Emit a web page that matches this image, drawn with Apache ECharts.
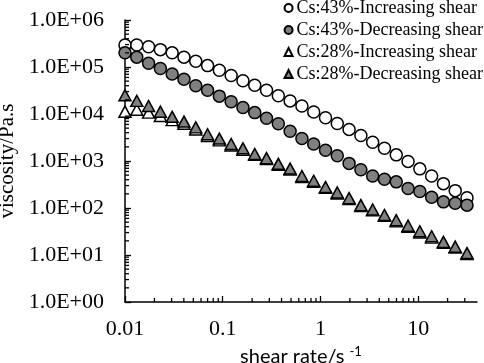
<!DOCTYPE html>
<html>
<head>
<meta charset="utf-8">
<script src="https://cdn.jsdelivr.net/npm/echarts@6/dist/echarts.min.js"></script>
<style>
  html, body { margin: 0; padding: 0; background: #fff; }
  #chart { width: 484px; height: 363px; }
</style>
</head>
<body>
<div id="chart"></div>
<script>
// shear rate (1/s), 30 log-spaced points
const shearRate = [0.01, 0.0132, 0.01743, 0.02302, 0.03039, 0.04013, 0.05298, 0.06996, 0.09237, 0.122,
  0.161, 0.2126, 0.2807, 0.3707, 0.4894, 0.6462, 0.8532, 1.127, 1.487, 1.964,
  2.593, 3.423, 4.52, 5.968, 7.88, 10.4, 13.74, 18.14, 23.95, 31.62];

// viscosity (Pa.s)
const cs43Inc = [2.95e5, 2.95e5, 2.69e5, 2.34e5, 2.0e5, 1.62e5, 1.32e5, 1.07e5, 8.5e4, 6.6e4,
  5.1e4, 4.1e4, 3.2e4, 2.45e4, 1.9e4, 1.48e4, 1.1e4, 8.3e3, 6.3e3, 4.7e3,
  3.5e3, 2.5e3, 1.86e3, 1.35e3, 980, 680, 480, 330, 234, 166];
const cs43Dec = [2.0e5, 1.62e5, 1.2e5, 9.3e4, 7.1e4, 5.5e4, 4.0e4, 3.2e4, 2.4e4, 1.82e4,
  1.38e4, 1.07e4, 8.1e3, 6.2e3, 4.3e3, 3.0e3, 2.3e3, 1.7e3, 1.29e3, 890,
  650, 480, 410, 360, 260, 224, 170, 135, 126, 115];
const cs28Inc = [1.12e4, 1.23e4, 1.07e4, 9.1e3, 7.4e3, 6.2e3, 4.7e3, 3.4e3, 2.75e3, 2.14e3,
  1.74e3, 1.35e3, 1.1e3, 830, 660, 457, 363, 269, 204, 155,
  110, 89, 68, 52, 40, 30, 23.4, 18.2, 14.5, 10.5];
const cs28Dec = [2.5e4, 1.9e4, 1.48e4, 1.12e4, 8.7e3, 6.9e3, 5.2e3, 3.7e3, 3.0e3, 2.3e3,
  1.86e3, 1.41e3, 1.15e3, 870, 690, 480, 380, 280, 214, 162,
  115, 93, 71, 55, 42, 32, 25, 19, 15, 11];

const seriesNames = ['Cs:43%-Increasing shear', 'Cs:43%-Decreasing shear',
  'Cs:28%-Increasing shear', 'Cs:28%-Decreasing shear'];

const xTickLabels = ['0.01', '0.1', '1', '10'];        // 10^-2 .. 10^1
const yTickLabels = ['1.0E+00', '1.0E+01', '1.0E+02', '1.0E+03', '1.0E+04', '1.0E+05', '1.0E+06'];

// minor ticks (2..9 per decade)
const xMinorTicks = [0.02, 0.03, 0.04, 0.05, 0.06, 0.07, 0.08, 0.09,
  0.2, 0.3, 0.4, 0.5, 0.6, 0.7, 0.8, 0.9,
  2, 3, 4, 5, 6, 7, 8, 9, 20, 30];
const yMinorTicks = [];
[1, 10, 100, 1e3, 1e4, 1e5].forEach(d => {
  [2, 3, 4, 5, 6, 7, 8, 9].forEach(m => yMinorTicks.push(m * d));
});

const serif = 'Liberation Serif';
const gray = '#808080';

function pairs(ys) {
  return shearRate.map((x, i) => [x, ys[i]]);
}

function markerSeries(name, ys, symbol, fill, size) {
  return {
    name: name,
    type: 'scatter',
    data: pairs(ys),
    symbol: symbol,
    symbolSize: size,
    itemStyle: { color: fill, borderColor: '#000', borderWidth: 1.5, opacity: 1 }
  };
}

// small inside ticks at 2..9 of each decade
function tickSeries(data, horizontal, len) {
  return {
    type: 'custom',
    silent: true,
    z: 5,
    data: data,
    renderItem: function (params, api) {
      const p = api.coord([api.value(0), api.value(1)]);
      return {
        type: 'line',
        shape: horizontal
          ? { x1: p[0], y1: p[1], x2: p[0] + len, y2: p[1] }
          : { x1: p[0], y1: p[1], x2: p[0], y2: p[1] - len },
        style: { stroke: '#000', lineWidth: 1.3 }
      };
    }
  };
}

const chart = echarts.init(document.getElementById('chart'), null, { renderer: 'canvas' });

chart.setOption({
  animation: false,
  backgroundColor: '#fff',
  grid: { left: 125, right: 7, top: 20, bottom: 61, containLabel: false, outerBoundsMode: 'none' },
  legend: {
    data: seriesNames,
    orient: 'vertical',
    right: 1,
    top: -1,
    padding: [0, 0, 0, 0],
    itemWidth: 8,
    itemHeight: 8,
    itemGap: 4,
    textStyle: { fontFamily: serif, fontSize: 18, color: '#000', lineHeight: 18, padding: [0, 0, 0, -1] }
  },
  xAxis: {
    type: 'log',
    min: 0.01,
    max: 40,
    name: '{a|shear rate/s }{b|-1}',
    nameLocation: 'middle',
    nameGap: 40,
    nameTextStyle: {
      rich: {
        a: { fontFamily: 'Lato', fontSize: 20, color: '#000', lineHeight: 22, verticalAlign: 'bottom' },
        b: { fontFamily: 'Lato', fontSize: 13, color: '#000', lineHeight: 22, verticalAlign: 'top' }
      }
    },
    axisLine: { lineStyle: { color: '#000', width: 1.5 } },
    axisTick: { inside: true, length: 6, lineStyle: { color: '#000', width: 1.3 } },
    splitLine: { show: false },
    axisLabel: {
      margin: 16,
      showMaxLabel: false,
      fontFamily: serif,
      fontSize: 22,
      color: '#000',
      formatter: v => xTickLabels[Math.round(Math.log10(v)) + 2] || ''
    }
  },
  yAxis: {
    type: 'log',
    min: 1,
    max: 1e6,
    name: 'viscosity/Pa.s',
    nameLocation: 'middle',
    nameGap: 101,
    nameTextStyle: { fontFamily: serif, fontSize: 21, color: '#000' },
    axisLine: { show: true, lineStyle: { color: '#000', width: 1.5 } },
    axisTick: { show: true, inside: true, length: 6, lineStyle: { color: '#000', width: 1.3 } },
    splitLine: { show: false },
    axisLabel: {
      margin: 21,
      fontFamily: serif,
      fontSize: 22,
      color: '#000',
      formatter: v => yTickLabels[Math.round(Math.log10(v))] || ''
    }
  },
  series: [
    markerSeries(seriesNames[0], cs43Inc, 'circle', '#fff', 12),
    markerSeries(seriesNames[1], cs43Dec, 'circle', gray, 12),
    markerSeries(seriesNames[2], cs28Inc, 'triangle', '#fff', [12, 11]),
    markerSeries(seriesNames[3], cs28Dec, 'triangle', gray, [12, 11]),
    tickSeries(xMinorTicks.map(v => [v, 1]), false, 4),
    tickSeries(yMinorTicks.map(v => [0.01, v]), true, 4)
  ]
});
</script>
</body>
</html>
